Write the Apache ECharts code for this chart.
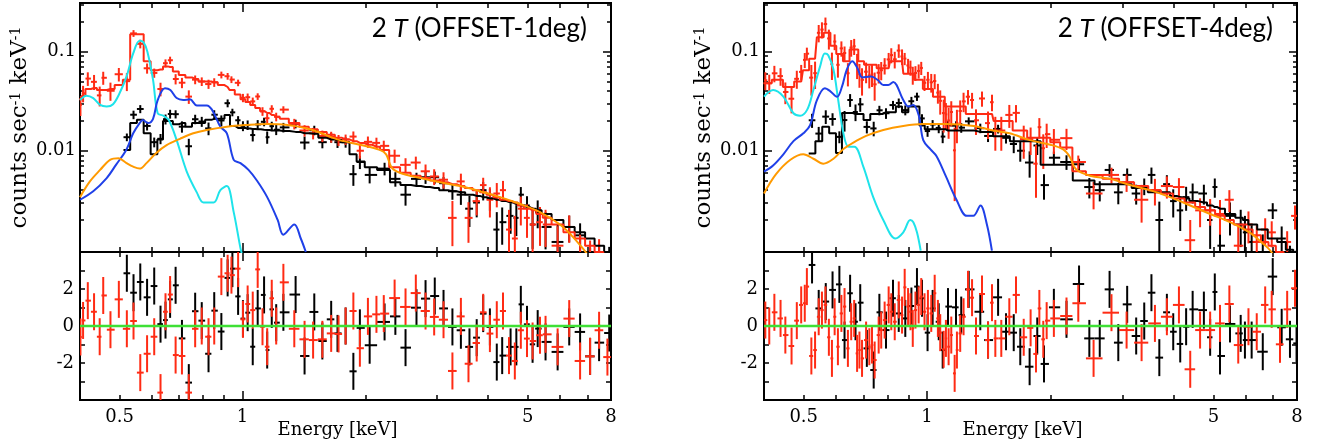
<!DOCTYPE html>
<html><head><meta charset="utf-8">
<script src="https://cdn.jsdelivr.net/npm/echarts@6/dist/echarts.min.js"></script>
<style>html,body{margin:0;padding:0;background:#fff}#c{width:1317px;height:445px}</style>
</head><body><div id="c"></div><script>
// ---------- axes ----------
const X_MIN = 0.4, X_MAX = 8;
const Y_MIN = 0.00095, Y_MAX = 0.31;
const R_MIN = -4, R_MAX = 4;
const xMajorTicks = [1];
const xMinorTicks = [0.5,0.6,0.7,0.8,0.9,2,3,4,5,6,7];
const xLabelValues = [0.5,1,5,8];
const xLabelTexts = ['0.5','1','5','8'];
const yMajorTicks = [0.01,0.1];
const yMinorTicks = [0.002,0.003,0.004,0.005,0.006,0.007,0.008,0.009,0.02,0.03,0.04,0.05,0.06,0.07,0.08,0.09,0.2,0.3];
const yLabelValues = [0.01,0.1];
const yLabelTexts = ['0.01','0.1'];
const rTicks = [-3,-2,-1,0,1,2,3];
const rLabelValues = [-2,0,2];
const rLabelTexts = ['-2','0','2'];

// ---------- left panel: OFFSET-1deg ----------
const L_red_E = [0.401,0.407,0.418,0.433,0.447,0.456,0.475,0.498,0.521,0.541,0.562,0.584,0.608,0.630,0.648,0.665,0.686,0.711,0.739,0.766,0.795,0.826,0.853,0.888,0.920,0.940,0.976,1.003,1.03,1.06,1.09,1.12,1.15,1.18,1.21,1.26,1.34,1.42,1.49,1.57,1.65,1.72,1.79,1.87,1.94,2.03,2.13,2.22,2.36,2.51,2.66,2.81,2.95,3.11,3.27,3.43,3.58,3.75,3.89,4.04,4.2,4.35,4.5,4.65,4.81,4.98,5.14,5.36,5.53,5.92,6.32,6.72,7.11,7.48,7.84];
const L_red_V = [.029,.038,.0535,.0496,.0362,.0545,.0403,.0592,.0504,.153,.12,.068,.061,.042,.0765,.082,.053,.0486,.0352,.0522,.05,.0471,.049,.0583,.0565,.0523,.0485,.0342,.0347,.0315,.0353,.025,.0213,.0265,.022,.026,.0187,.016,.015,.0141,.0138,.0128,.013,.0139,.010,.0123,.012,.0112,.0089,.0072,.0076,.0062,.0055,.0051,.0021,.0049,.0021,.0031,.0045,.0032,.0037,.004,.0016,.0013,.0026,.0021,.0018,.0019,.0018,.0011,.0017,.0009,.0008,.0009,.0006];
const L_red_M = [.033,.036,.042,.043,.041,.041,.042,.046,.052,.15,.15,.08,.065,.066,.071,.07,.063,.058,.055,.053,.05,.05,.049,.046,.044,.041,.037,.033,.031,.029,.027,.025,.024,.023,.022,.021,.019,.0175,.0165,.0155,.0145,.0135,.013,.0125,.012,.0115,.011,.0102,.0068,.006,.0056,.0053,.005,.0048,.0046,.0044,.0042,.004,.0038,.0036,.0034,.0032,.0031,.003,.0028,.0026,.0025,.0023,.0021,.0018,.0015,.0013,.0011,.00095,.0008];
const L_red_S = [.2,.2,.2,.2,.2,.2,.2,.2,.2,.08,.08,.1,.1,.1,.1,.1,.1,.1,.1,.1,.1,.1,.1,.1,.1,.1,.1,.1,.1,.1,.1,.1,.1,.1,.1,.1,.12,.12,.12,.12,.12,.12,.12,.14,.14,.14,.14,.14,.2,.2,.2,.2,.2,.2,.22,.22,.22,.22,.22,.3,.3,.3,.3,.3,.3,.3,.35,.35,.35,.35,.35,.4,.4,.4,.4];
const L_red_R = [-0.6,0.3,1.37,0.77,-0.58,1.65,-0.2,1.44,-0.15,0.27,-2.52,-1.5,-0.58,-3.6,0.77,1.7,-1.57,-1.62,-3.6,-0.15,0,-0.58,0,2.67,2.85,2.75,3.1,0.36,1.19,0.86,3.06,-0.04,-1.12,1.5,0,2.36,-0.15,-0.72,-0.76,-0.72,-0.4,-0.43,0,0.81,-1.2,0.52,0.63,0.67,1.51,1.03,1.78,0.81,0.49,0.34,-2.43,0.52,-2.04,-0.92,0.74,-0.41,0.34,0.81,-1.6,-1.89,-0.23,-0.68,-0.81,-0.5,-0.45,-1.13,0.4,-1.89,-1.64,-0.23,-1.68];

const L_blk_E = [.521,.541,.562,.584,.608,.630,.648,.665,.686,.711,.739,.766,.795,.826,.853,.888,.920,.945,.976,1.003,1.03,1.06,1.09,1.13,1.15,1.18,1.21,1.26,1.35,1.42,1.50,1.57,1.65,1.71,1.79,1.87,1.94,2.05,2.23,2.37,2.51,2.67,2.81,2.96,3.11,3.27,3.43,3.6,3.75,3.89,4.04,4.2,4.33,4.54,4.69,4.81,4.98,5.14,5.29,5.53,5.92,6.32,6.72,7.11,7.48,7.92];
const L_blk_V = [.0137,.0231,.0264,.0178,.0122,.0132,.0208,.0235,.0234,.0175,.0111,.0208,.0197,.0168,.0231,.0202,.0302,.0244,.0203,.0178,.0182,.0144,.0184,.0196,.0137,.0177,.0163,.0172,.0187,.0121,.0161,.0122,.0136,.0122,.0122,.0058,.0077,.0057,.0066,.0052,.0036,.0052,.0054,.0054,.0047,.0039,.0036,.0026,.003,.004,.0033,.0016,.0019,.0022,.0021,.0036,.0028,.0018,.0024,.0017,.0012,.0017,.0014,.00066,.0008,.0008];
const L_blk_M = [.0102,.019,.0205,.015,.0092,.013,.02,.02,.0185,.019,.0175,.019,.019,.0205,.021,.021,.023,.0178,.017,.017,.0168,.0166,.0165,.0163,.0162,.016,.016,.0158,.0155,.015,.0148,.0135,.013,.0128,.0122,.0092,.0078,.0068,.0064,.0048,.0045,.0044,.0043,.0042,.004,.0039,.0038,.0036,.0035,.0034,.0033,.0032,.0031,.003,.0029,.0028,.0027,.0026,.0025,.0023,.002,.0017,.0015,.0013,.0011,.0009];
const L_blk_S = [.12,.12,.12,.12,.15,.12,.12,.12,.12,.12,.12,.12,.12,.12,.12,.12,.12,.12,.12,.12,.12,.12,.12,.12,.12,.12,.12,.12,.12,.12,.12,.12,.12,.12,.12,.15,.15,.15,.15,.18,.18,.18,.18,.18,.18,.18,.2,.25,.25,.25,.25,.25,.25,.25,.25,.25,.25,.3,.3,.3,.3,.3,.3,.3,.3,.3];
const L_blk_R = [2.85,1.8,2.38,1.55,2.16,.1,.32,1.44,2.2,-.67,-3.06,.8,.29,-1.5,.83,-.3,2.6,3.1,1.6,.4,.72,-1.12,.95,1.68,-1.3,.9,.18,.74,1.7,-1.62,.76,-.81,.36,-.4,0,-2.45,-.1,-1.04,.22,.52,-1.17,.99,1.48,1.62,.95,-.05,-.23,-1.13,-.63,.67,-.05,-1.95,-1.6,-1.13,-1.13,1.17,.09,-.99,-.14,-.86,-1.4,-.05,-.32,-1.64,-.9,-.38];

const L_cyan_E = [.4,.415,.431,.448,.465,.482,.5,.52,.54,.56,.572,.585,.604,.62,.64,.66,.69,.73,.773,.803,.85,.883,.916,.952,.989,1.0];
const L_cyan_V = [.0325,.036,.034,.029,.028,.0295,.038,.056,.096,.129,.125,.1,.052,.0239,.0226,.0204,.0128,.0062,.0038,.003,.003,.004,.0044,.0024,.00104,.00087];
const L_blue_E = [.4,.431,.465,.49,.52,.54,.56,.57,.587,.604,.62,.646,.666,.69,.716,.744,.773,.818,.842,.883,.916,.952,.989,1.035,1.085,1.15,1.22,1.26,1.34,1.39,1.43];
const L_blue_V = [.0032,.0039,.0053,.0072,.0103,.015,.019,.0204,.019,.021,.0325,.0427,.041,.034,.0325,.033,.0287,.0287,.026,.0175,.015,.0081,.0075,.0064,.005,.0034,.002,.00142,.0018,.0013,.00095];
const L_orng_E = [.4,.423,.448,.474,.497,.52,.54,.56,.582,.615,.652,.703,.758,.818,.916,1.027,1.15,1.29,1.44,1.55,1.73,1.94,2.17,2.25,2.32,2.43,2.73,3.05,3.42,3.82,4.28,4.79,5.36,6.0,6.4,6.8,7.0];
const L_orng_V = [.0034,.0049,.0064,.0081,.0084,.0075,.0069,.0066,.0075,.0095,.0114,.0132,.015,.0162,.0175,.0182,.0186,.0182,.0168,.0152,.0128,.0115,.0102,.0092,.0068,.006,.0053,.0048,.0044,.0039,.0034,.0029,.0024,.0018,.0014,.00105,.0009];

// ---------- right panel: OFFSET-4deg ----------
const R_red_E = [.403,.412,.424,.439,.451,.467,.481,.493,.503,.509,.522,.533,.544,.554,.565,.576,.586,.595,.606,.618,.629,.641,.653,.664,.675,.684,.694,.71,.723,.734,.745,.762,.773,.788,.806,.818,.834,.853,.869,.882,.899,.911,.923,.937,.954,.968,.986,1.005,1.024,1.044,1.063,1.077,1.098,1.112,1.129,1.146,1.168,1.183,1.205,1.228,1.259,1.288,1.317,1.362,1.409,1.441,1.468,1.518,1.588,1.649,1.722,1.79,1.845,1.88,1.922,1.959,2.04,2.19,2.34,2.55,2.82,3.07,3.34,3.6,3.85,4.12,4.39,4.64,4.91,5.19,5.47,5.75,6.09,6.38,6.69,6.94,7.27,7.57,7.91];
const R_red_V = [.0514,.048,.0605,.0567,.0392,.0335,.0532,.0625,.0826,.0955,.0547,.0607,.155,.167,.19,.136,.0748,.1265,.0737,.108,.0968,.0606,.11,.1136,.0739,.0592,.052,.0628,.0574,.0588,.0468,.0613,.065,.0724,.0835,.0923,.0837,.1026,.0894,.0851,.0726,.0692,.0584,.061,.0639,.0685,.0485,.052,.0491,.0505,.0386,.0319,.024,.0233,.0202,.0246,.0101,.0189,.0252,.0315,.0351,.0325,.0203,.0337,.019,.0309,.016,.016,.023,.0241,.0131,.0131,.0074,.0173,.0106,.0147,.0129,.0134,.0077,.0037,.0057,.0048,.0032,.004,.0044,.0043,.00125,.0025,.0025,.0023,.0032,.0011,.0018,.0012,.0016,.0015,.00054,.0012,.0022];
const R_red_M = [.048,.048,.052,.052,.044,.044,.05,.05,.065,.065,.085,.085,.14,.14,.155,.155,.115,.115,.095,.095,.08,.08,.105,.105,.105,.08,.08,.074,.074,.074,.074,.068,.068,.068,.068,.08,.08,.08,.08,.06,.06,.06,.06,.052,.052,.052,.042,.042,.042,.035,.035,.035,.035,.028,.028,.028,.028,.028,.028,.028,.0235,.0235,.0235,.0235,.0235,.0235,.02,.02,.02,.016,.016,.0135,.0135,.0135,.0135,.0135,.0122,.0108,.0062,.0057,.0052,.0048,.0044,.004,.0037,.0033,.003,.0027,.0025,.0022,.002,.0018,.0016,.0014,.0012,.0011,.00095,.00085,.00075];
const R_red_S = [.22,.22,.22,.22,.22,.22,.22,.22,.22,.22,.22,.22,.22,.22,.2,.2,.2,.2,.2,.2,.2,.2,.2,.2,.2,.2,.2,.2,.2,.2,.2,.2,.2,.2,.2,.2,.2,.2,.2,.2,.2,.2,.2,.2,.2,.2,.2,.25,.25,.25,.25,.25,.25,.25,.25,.25,.25,.25,.25,.25,.25,.25,.25,.25,.25,.25,.3,.3,.3,.3,.3,.3,.3,.3,.3,.3,.3,.3,.2,.2,.2,.2,.3,.3,.3,.3,.25,.3,.3,.4,.4,.4,.4,.4,.4,.4,.4,.4,.8];
const R_red_R = [.32,0,.74,.41,-.49,-1.08,.29,1.14,1.23,2.13,-1.62,-1.3,.5,.86,1.14,-.61,-1.75,.5,-1.12,.68,1.05,-1.21,.23,.41,-1.48,-1.3,-1.75,-.76,-1.12,-1.03,-1.84,-.49,-.22,.32,1.14,.77,.23,1.41,.59,2.09,1.05,.77,-.13,.86,1.14,1.59,.77,.95,.68,1.77,.41,-.36,-1.26,-.67,-1.12,-.49,-2.56,-1.3,-.4,.5,1.98,1.53,-.54,1.73,-.76,1.26,-.67,-.67,.5,1.68,-.61,-.1,-1.51,.95,-.72,.29,.41,.54,1.23,-1.75,.72,-.22,-.9,.14,.5,1.14,-2.34,-.22,-.22,.14,1.19,-1.03,-.04,-.31,1.14,.9,-.99,.9,2.04];

const R_blk_E = [.524,.544,.566,.588,.611,.629,.649,.669,.687,.713,.741,.765,.794,.826,.853,.885,.916,.945,.972,1.003,1.032,1.068,1.092,1.125,1.177,1.212,1.264,1.349,1.409,1.491,1.559,1.628,1.689,1.78,1.858,1.93,2.04,2.19,2.35,2.49,2.64,2.79,2.93,3.08,3.24,3.39,3.53,3.69,3.85,3.99,4.15,4.29,4.45,4.74,4.91,5.04,5.19,5.49,5.83,5.97,6.2,6.6,6.98,7.34,7.69,7.98];
const R_blk_V = [.0203,.0149,.0221,.0209,.0138,.0204,.0325,.0246,.0294,.0174,.0168,.0256,.0239,.0289,.0303,.0257,.0316,.0352,.0212,.0158,.0184,.017,.0139,.018,.0179,.0171,.0198,.0169,.0141,.0166,.0135,.0117,.01,.0076,.0113,.0045,.0085,.0077,.0073,.0043,.004,.0064,.0038,.0057,.0037,.0044,.0057,.002,.0046,.0031,.0025,.0034,.0038,.0037,.002,.0043,.0011,.0022,.0018,.0015,.0012,.00087,.0025,.0013,.00075,.00067];
const R_blk_M = [.0094,.0125,.0175,.015,.0095,.024,.024,.0235,.0235,.0204,.0235,.0235,.0245,.0245,.028,.0245,.028,.028,.018,.0165,.0165,.0165,.0165,.016,.016,.016,.016,.0155,.0155,.014,.014,.0125,.0125,.0125,.0125,.0072,.0072,.0072,.005,.005,.0046,.0046,.0046,.0046,.0042,.0042,.0038,.0038,.0038,.0035,.0034,.0033,.0031,.003,.0028,.0027,.0026,.0023,.0021,.002,.0018,.0016,.0013,.0012,.001,.0009];
const R_blk_S = [.35,.2,.2,.2,.2,.2,.2,.2,.2,.12,.12,.12,.12,.12,.12,.12,.12,.12,.12,.12,.12,.12,.12,.12,.12,.12,.12,.12,.12,.12,.12,.18,.18,.18,.18,.18,.18,.18,.2,.2,.2,.2,.2,.2,.2,.2,.28,.28,.28,.28,.28,.28,.28,.28,.35,.35,.35,.35,.35,.35,.35,.35,.35,.35,.35,.35];
const R_blk_R = [3.3,.95,1.32,1.95,2.25,-.76,1.77,.23,1.26,-1.21,-2.38,.74,-.22,1.5,.68,.41,1.08,2.13,1.5,-.36,.95,.23,-1.3,1.05,1.01,.59,1.98,.77,-.76,1.55,-.31,-.36,-1.12,-2.2,-.54,-2.05,1.01,.36,2.27,-.67,-.67,1.98,-.9,1.17,-.54,.27,1.8,-1.71,.74,-.31,-.97,-.04,.9,.86,-.61,1.84,-1.62,.11,-.4,-.76,-.76,-1.39,2.67,-.07,-.72,-.94];

const R_cyan_E = [.4,.421,.446,.472,.49,.51,.528,.548,.563,.574,.591,.607,.625,.643,.665,.699,.739,.782,.837,.875,.91,.926,.945,.965];
const R_cyan_V = [.0352,.041,.0352,.0239,.0226,.026,.041,.0706,.096,.092,.066,.0325,.015,.011,.011,.0069,.0034,.002,.0013,.0015,.002,.0019,.0015,.00098];
const R_blue_E = [.4,.421,.446,.472,.499,.518,.538,.563,.58,.603,.62,.637,.657,.676,.695,.73,.758,.782,.804,.827,.875,.9,.926,.955,.979,1.02,1.055,1.11,1.18,1.25,1.297,1.35,1.4,1.44];
const R_blue_V = [.00615,.0071,.0092,.0125,.015,.018,.032,.0427,.04,.035,.0443,.066,.08,.0685,.055,.056,.0518,.046,.046,.0495,.0325,.028,.029,.0226,.0128,.0103,.0088,.0056,.0032,.0022,.0022,.0028,.0018,.00098];
const R_orng_E = [.4,.428,.464,.499,.528,.558,.591,.625,.661,.71,.782,.875,.979,1.11,1.3,1.45,1.59,1.78,2.0,2.15,2.23,2.31,2.5,2.8,3.13,3.5,3.92,4.39,4.91,5.49,6.15,6.6,6.8,7.0];
const R_orng_V = [.0037,.0058,.0081,.0092,.0083,.0074,.0083,.0104,.0121,.0141,.0162,.0178,.0186,.0186,.0178,.016,.015,.0128,.0115,.0103,.0087,.0065,.0056,.0052,.0045,.004,.0034,.0028,.0023,.0019,.00148,.00116,.00104,.0009];

// ---------- styling ----------
const C_RED = '#ff2b14', C_BLK = '#000000', C_CYAN = '#1ee3ea', C_BLUE = '#1f40e8', C_ORNG = '#ff9a00', C_GRN = '#3fe035';
const SERIF = 'DejaVu Serif';
const TOP = 3, MID = 252, BOT = 400;

const grids = [], xAxes = [], yAxes = [], series = [];

function binEdges(E) {
  const n = E.length, lo = [], hi = [];
  for (let i = 0; i < n; i++) {
    const prev = i > 0 ? E[i-1] : E[i]*E[i]/E[i+1];
    const next = i < n-1 ? E[i+1] : E[i]*E[i]/E[i-1];
    lo.push(Math.sqrt(prev*E[i])); hi.push(Math.sqrt(E[i]*next));
  }
  return [lo, hi];
}
function makeFmt(vals, texts, isLog) {
  return function (v) {
    for (let i = 0; i < vals.length; i++) {
      const t = isLog ? Math.log10(vals[i]) : vals[i];
      if (Math.abs(t - v) < 1e-6) return texts[i];
    }
    return '';
  };
}
function tickAxis(dim, gi, pos, min, max, vals, len, label, extra) {
  const ax = {
    type: 'value', gridIndex: gi, position: pos, min: min, max: max, silent: true,
    axisLine: {show: false, onZero: false},
    splitLine: {show: false},
    axisTick: {show: true, inside: true, length: len, customValues: vals, lineStyle: {color: '#000', width: 1.5}},
    axisLabel: label ? {show: true, customValues: label.values, formatter: label.fmt, margin: label.margin,
      color: '#000', fontFamily: SERIF, fontSize: 18} : {show: false}
  };
  if (extra) Object.assign(ax, extra);
  const arr = dim === 'x' ? xAxes : yAxes;
  arr.push(ax);
  return arr.length - 1;
}
function crossSeries(color, xi, yi, items) {
  return {
    type: 'custom', xAxisIndex: xi, yAxisIndex: yi, clip: true, silent: true, animation: false,
    encode: {x: 0, y: 1}, data: items,
    renderItem: function (params, api) {
      const e = api.value(0), v = api.value(1);
      const c = api.coord([e, v]);
      const l = api.coord([api.value(2), v]);
      const r = api.coord([api.value(3), v]);
      const t = api.coord([e, api.value(5)]);
      const b = api.coord([e, api.value(4)]);
      const st = {stroke: color, lineWidth: 2};
      return {type: 'group', children: [
        {type: 'line', shape: {x1: l[0], y1: c[1], x2: r[0], y2: c[1]}, style: st},
        {type: 'line', shape: {x1: c[0], y1: t[1], x2: c[0], y2: b[1]}, style: st}
      ]};
    }
  };
}
function lineSeries(color, xi, yi, pts, opt) {
  return Object.assign({type: 'line', xAxisIndex: xi, yAxisIndex: yi, data: pts, showSymbol: false, symbol: 'none',
    clip: true, silent: true, animation: false, lineStyle: {color: color, width: 2}}, opt || {});
}
function spectrumSet(E, V, M, S, R, color, xT, yT, xR, yR) {
  const [lo, hi] = binEdges(E);
  const top = E.map((e, i) => [e, V[i], lo[i], hi[i], Math.max(V[i] - S[i]*M[i], 1e-6), V[i] + S[i]*M[i]]);
  const res = E.map((e, i) => [e, R[i], lo[i], hi[i], R[i] - 1, R[i] + 1]);
  const step = [[lo[0], M[0]]].concat(E.map((e, i) => [e, M[i]])).concat([[hi[E.length-1], M[E.length-1]]]);
  return {
    data: crossSeries(color, xT, yT, top),
    model: lineSeries(color, xT, yT, step, {step: 'middle'}),
    resid: crossSeries(color, xR, yR, res)
  };
}
function zip(E, V) { return E.map((e, i) => [e, V[i]]); }

function buildPanel(p) {
  const gT = grids.length;
  grids.push({left: p.left, top: TOP, width: p.width, height: MID - TOP, show: true, borderColor: '#000', borderWidth: 2,
    backgroundColor: 'transparent', containLabel: false, outerBoundsMode: 'none'});
  const gR = grids.length;
  grids.push({left: p.left, top: MID, width: p.width, height: BOT - MID, show: true, borderColor: '#000', borderWidth: 2,
    backgroundColor: 'transparent', containLabel: false, outerBoundsMode: 'none'});
  // data axes (library scales)
  const xT = xAxes.push({type: 'log', logBase: 10, gridIndex: gT, min: X_MIN, max: X_MAX, show: false}) - 1;
  const yT = yAxes.push({type: 'log', logBase: 10, gridIndex: gT, min: Y_MIN, max: Y_MAX, show: false}) - 1;
  const xR = xAxes.push({type: 'log', logBase: 10, gridIndex: gR, min: X_MIN, max: X_MAX, show: false}) - 1;
  const yR = yAxes.push({type: 'value', gridIndex: gR, min: R_MIN, max: R_MAX, show: false}) - 1;
  // tick overlays (log10 space)
  const lx0 = Math.log10(X_MIN), lx1 = Math.log10(X_MAX), ly0 = Math.log10(Y_MIN), ly1 = Math.log10(Y_MAX);
  const xMin = xMinorTicks.map(Math.log10), xMaj = xMajorTicks.map(Math.log10);
  const yMin = yMinorTicks.map(Math.log10), yMaj = yMajorTicks.map(Math.log10);
  [gT, gR].forEach(g => {
    ['bottom', 'top'].forEach(pos => {
      tickAxis('x', g, pos, lx0, lx1, xMin, 5, null);
      const lab = (g === gR && pos === 'bottom') ? {values: xLabelValues.map(Math.log10), fmt: makeFmt(xLabelValues, xLabelTexts, true), margin: 8} : null;
      const extra = lab ? {name: 'Energy [keV]', nameLocation: 'middle', nameGap: 21, nameMoveOverlap: false,
        nameTextStyle: {fontFamily: SERIF, fontSize: 18, color: '#000', padding: [0, 16, 0, 0]}} : null;
      tickAxis('x', g, pos, lx0, lx1, xMaj, 9, lab, extra);
    });
  });
  ['left', 'right'].forEach(pos => {
    tickAxis('y', gT, pos, ly0, ly1, yMin, 4, null);
    const lab = pos === 'left' ? {values: yLabelValues.map(Math.log10), fmt: makeFmt(yLabelValues, yLabelTexts, true), margin: 4} : null;
    const extra = lab ? {name: 'counts sec{s|-1} keV{s|-1}', nameLocation: 'middle', nameGap: 48, nameRotate: 90, nameMoveOverlap: false,
      nameTextStyle: {fontFamily: SERIF, fontSize: 23, color: '#000',
        rich: {s: {fontFamily: SERIF, fontSize: 14, color: '#000', verticalAlign: 'top'}}}} : null;
    tickAxis('y', gT, pos, ly0, ly1, yMaj, 8, lab, extra);
    const rl = pos === 'left' ? {values: rLabelValues, fmt: makeFmt(rLabelValues, rLabelTexts, false), margin: 6} : null;
    tickAxis('y', gR, pos, R_MIN, R_MAX, rTicks, 5, rl);
  });
  // series
  const blk = spectrumSet(p.bE, p.bV, p.bM, p.bS, p.bR, C_BLK, xT, yT, xR, yR);
  const red = spectrumSet(p.rE, p.rV, p.rM, p.rS, p.rR, C_RED, xT, yT, xR, yR);
  series.push(blk.data, red.data, blk.model, red.model);
  series.push(lineSeries(C_CYAN, xT, yT, zip(p.cE, p.cV), {smooth: 0.35}));
  series.push(lineSeries(C_BLUE, xT, yT, zip(p.uE, p.uV), {smooth: 0.35}));
  series.push(lineSeries(C_ORNG, xT, yT, zip(p.oE, p.oV), {smooth: 0.35}));
  series.push(blk.resid, red.resid);
  series.push(lineSeries(C_GRN, xR, yR, [[X_MIN, 0], [X_MAX, 0]], {lineStyle: {color: C_GRN, width: 2.5}}));
}

buildPanel({left: 80, width: 531,
  rE: L_red_E, rV: L_red_V, rM: L_red_M, rS: L_red_S, rR: L_red_R,
  bE: L_blk_E, bV: L_blk_V, bM: L_blk_M, bS: L_blk_S, bR: L_blk_R,
  cE: L_cyan_E, cV: L_cyan_V, uE: L_blue_E, uV: L_blue_V, oE: L_orng_E, oV: L_orng_V});
buildPanel({left: 764, width: 533,
  rE: R_red_E, rV: R_red_V, rM: R_red_M, rS: R_red_S, rR: R_red_R,
  bE: R_blk_E, bV: R_blk_V, bM: R_blk_M, bS: R_blk_S, bR: R_blk_R,
  cE: R_cyan_E, cV: R_cyan_V, uE: R_blue_E, uV: R_blue_V, oE: R_orng_E, oV: R_orng_V});

const titleStyle = {fontFamily: 'Lato', fontSize: 26, fontWeight: 'normal', color: '#000', lineHeight: 30,
  rich: {i: {fontFamily: 'Lato', fontSize: 26, fontStyle: 'italic', color: '#000', lineHeight: 30}}};
const chart = echarts.init(document.getElementById('c'), null, {renderer: 'canvas'});
chart.setOption({
  animation: false,
  backgroundColor: '#fff',
  title: [
    {text: '2 {i|T} (OFFSET-1deg)', right: 730, top: 14, padding: 0, textStyle: titleStyle},
    {text: '2 {i|T} (OFFSET-4deg)', right: 44, top: 14, padding: 0, textStyle: titleStyle}
  ],
  grid: grids, xAxis: xAxes, yAxis: yAxes, series: series
});
</script></body></html>
